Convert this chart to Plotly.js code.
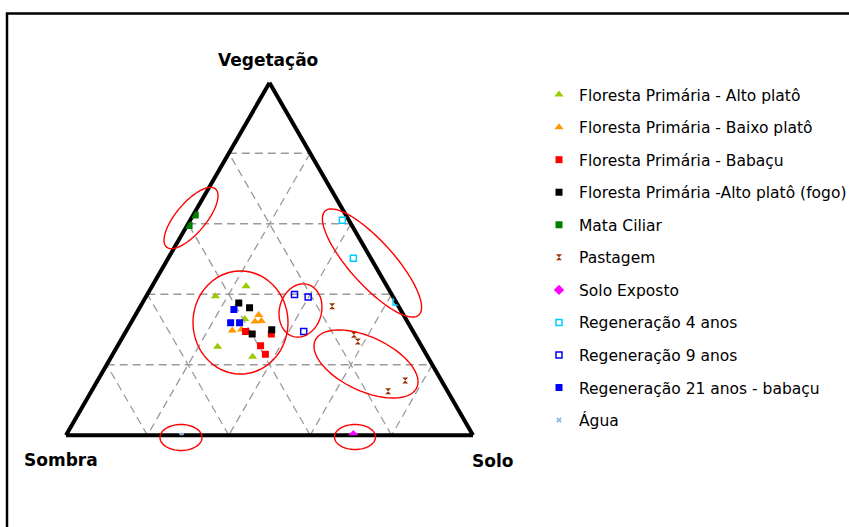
<!DOCTYPE html>
<html><head><meta charset="utf-8">
<script src="https://cdn.plot.ly/plotly-3.0.1.min.js"></script>
<style>html,body{margin:0;padding:0;background:#fff}#chart{width:849px;height:527px}</style>
</head><body><div id="chart"></div>
<script>
const W = 849, H = 527;

// Series values in % : Vegetação (top), Sombra (bottom-left), Solo (bottom-right)
const seriesNames = [
  'Floresta Primária - Alto platô',
  'Floresta Primária - Baixo platô',
  'Floresta Primária - Babaçu',
  'Floresta Primária -Alto platô (fogo)',
  'Mata Ciliar',
  'Pastagem',
  'Solo Exposto',
  'Regeneração 4 anos',
  'Regeneração 9 anos',
  'Regeneração 21 anos - babaçu',
  'Água'
];

const altoPlatoVeg = [42.3, 39.4, 25.1, 22.3, 33.0];
const altoPlatoSom = [34.6, 43.6, 50.2, 43.0, 39.6];
const altoPlatoSol = [23.1, 17.0, 24.7, 34.7, 27.4];

const baixoPlatoVeg = [34.1, 32.3, 32.4, 29.7, 30.0];
const baixoPlatoSom = [35.6, 37.4, 35.8, 44.3, 41.9];
const baixoPlatoSol = [30.3, 30.3, 31.8, 26.0, 28.1];

const babacuVeg = [29.4, 25.4, 23.0, 28.7];
const babacuSom = [41.2, 39.5, 39.5, 35.2];
const babacuSol = [29.4, 35.1, 37.5, 36.1];

const fogoVeg = [37.5, 36.2, 28.7, 29.9];
const fogoSom = [38.8, 36.8, 39.9, 34.5];
const fogoSol = [23.7, 27.0, 31.4, 35.6];

const mataCiliarVeg = [62.5, 59.5];
const mataCiliarSom = [37.0, 40.0];
const mataCiliarSol = [0.5, 0.5];

const pastagemVeg = [36.6, 28.5, 26.6, 15.5, 12.5];
const pastagemSom = [16.3, 15.0, 15.0, 8.9, 14.6];
const pastagemSol = [47.1, 56.5, 58.4, 75.6, 72.9];

const soloExpVeg = [0];
const soloExpSom = [29.4];
const soloExpSol = [70.6];

const reg4Veg = [61.0, 50.2, 37.8];
const reg4Som = [1.6, 4.3, 0.0];
const reg4Sol = [37.4, 45.5, 62.2];

const reg9Veg = [39.9, 39.2, 29.4];
const reg9Som = [23.9, 20.9, 26.9];
const reg9Sol = [36.2, 39.9, 43.7];

const reg21Veg = [35.7, 31.9, 31.9];
const reg21Som = [40.9, 43.6, 41.4];
const reg21Sol = [23.4, 24.5, 26.7];

const aguaVeg = [0];
const aguaSom = [71.6];
const aguaSol = [28.4];

const axisTitles = ['Vegetação', 'Sombra', 'Solo'];

// styles
const styles = [
  {symbol: 'triangle-up', color: '#99cc00', size: 8},
  {symbol: 'triangle-up', color: '#ff9900', size: 8},
  {symbol: 'square', color: '#ff0000', size: 7},
  {symbol: 'square', color: '#000000', size: 7},
  {symbol: 'square', color: '#008000', size: 7},
  {symbol: 'hourglass', color: '#993300', size: 6},
  {symbol: 'diamond', color: '#ff00ff', size: 8},
  {symbol: 'square-open', color: '#00ccff', size: 6, line: 1.5},
  {symbol: 'square-open', color: '#0000ff', size: 6, line: 1.5},
  {symbol: 'square', color: '#0000ff', size: 7},
  {symbol: 'x', color: '#99bbee', size: 5}
];

const seriesData = [
  [altoPlatoVeg, altoPlatoSom, altoPlatoSol],
  [baixoPlatoVeg, baixoPlatoSom, baixoPlatoSol],
  [babacuVeg, babacuSom, babacuSol],
  [fogoVeg, fogoSom, fogoSol],
  [mataCiliarVeg, mataCiliarSom, mataCiliarSol],
  [pastagemVeg, pastagemSom, pastagemSol],
  [soloExpVeg, soloExpSom, soloExpSol],
  [reg4Veg, reg4Som, reg4Sol],
  [reg9Veg, reg9Som, reg9Sol],
  [reg21Veg, reg21Som, reg21Sol],
  [aguaVeg, aguaSom, aguaSol]
];

const traces = seriesData.map((d, i) => {
  const s = styles[i];
  return {
    type: 'scatterternary', mode: 'markers', name: seriesNames[i],
    legendgroup: 'g' + i,
    a: d[0], b: d[1], c: d[2],
    marker: {symbol: s.symbol, size: s.size, color: s.color,
             line: {width: s.line || 0, color: s.color}},
    hoverinfo: 'name+a+b+c'
  };
});

// triangle placement (pixels)
const triLeft = 66, triRight = 473, triTop = 81, triBottom = 437;

function ax() {
  return {
    title: {text: ''}, showticklabels: false, ticks: '',
    linecolor: '#000', linewidth: 4, layer: 'below traces',
    showgrid: true, gridcolor: '#9a9a9a', gridwidth: 1.3, griddash: '8px,5px',
    tickmode: 'linear', tick0: 0, dtick: 20
  };
}

// red outline ellipses (pixel geometry: cx, cy, semi-major, semi-minor, angle deg)
const ellipses = [
  [191, 218, 38, 15, -50],
  [240.5, 322.5, 47.5, 51.5, 0],
  [300.5, 310.5, 27, 21, -75],
  [372, 263, 70, 22, 48],
  [366, 364, 56, 27, 25],
  [181, 437.5, 21, 13, 0],
  [355, 437, 20.5, 12.5, 0]
];
function ellipsePath(e) {
  const [cx, cy, rx, ry, ang] = e;
  const t = ang * Math.PI / 180;
  let p = '';
  for (let k = 0; k <= 90; k++) {
    const u = 2 * Math.PI * k / 90;
    const x = cx + rx * Math.cos(u) * Math.cos(t) - ry * Math.sin(u) * Math.sin(t);
    const y = cy + rx * Math.cos(u) * Math.sin(t) + ry * Math.sin(u) * Math.cos(t);
    p += (k === 0 ? 'M' : 'L') + (x / W).toFixed(5) + ',' + (1 - y / H).toFixed(5);
  }
  return p + 'Z';
}
const shapes = ellipses.map(e => ({
  type: 'path', xref: 'paper', yref: 'paper', path: ellipsePath(e),
  line: {color: '#ff0000', width: 1.4}, fillcolor: 'rgba(0,0,0,0)'
}));
shapes.push({type: 'rect', xref: 'paper', yref: 'paper',
  x0: 7 / W, x1: 1.05, y0: -0.05, y1: 1 - 13.5 / H,
  line: {color: '#000', width: 2.5}});

const titleFont = {family: 'DejaVu Sans', size: 17, color: '#000', weight: 'bold'};
const annotations = [
  {text: '<b>' + axisTitles[0] + '</b>', x: 268 / W, y: 1 - 60 / H},
  {text: '<b>' + axisTitles[1] + '</b>', x: 61 / W, y: 1 - 460 / H},
  {text: '<b>' + axisTitles[2] + '</b>', x: 492 / W, y: 1 - 461 / H}
].map(a => Object.assign({xref: 'paper', yref: 'paper', showarrow: false,
  xanchor: 'center', yanchor: 'middle', font: titleFont}, a));

const layout = {
  width: W, height: H,
  margin: {l: 0, r: 0, t: 0, b: 0, autoexpand: false},
  paper_bgcolor: '#fff',
  showlegend: true,
  legend: {x: 539 / W, xanchor: 'left', y: 1 - 78 / H, yanchor: 'top',
    font: {family: 'DejaVu Sans', size: 15.5, color: '#000'},
    tracegroupgap: 9.4, bgcolor: 'rgba(0,0,0,0)', traceorder: 'grouped'},
  ternary: {
    sum: 100,
    domain: {x: [triLeft / W, triRight / W], y: [1 - triBottom / H, 1 - triTop / H]},
    bgcolor: 'rgba(0,0,0,0)',
    aaxis: ax(), baxis: ax(), caxis: ax()
  },
  shapes: shapes,
  annotations: annotations
};

Plotly.newPlot('chart', traces, layout, {displayModeBar: false, staticPlot: true});
</script>
</body></html>
